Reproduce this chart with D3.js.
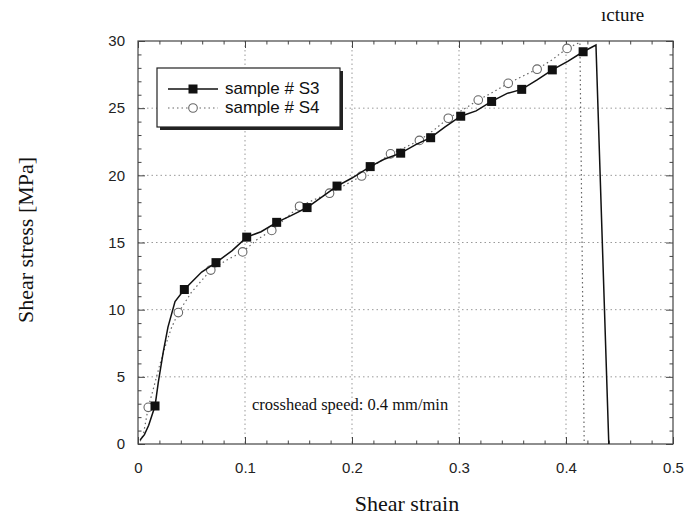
<!DOCTYPE html>
<html>
<head>
<meta charset="utf-8">
<script src="https://cdn.jsdelivr.net/npm/d3@7/dist/d3.min.js"></script>
<style>
  html, body { margin: 0; padding: 0; background: #fff; }
  svg { display: block; }
</style>
</head>
<body>
<svg id="chart" width="686" height="517"></svg>
<script>
// Shear stress–strain curves for two samples
const s3Strain = [0.002, 0.006, 0.010, 0.0159, 0.019, 0.0237, 0.028, 0.0346, 0.0433, 0.0595, 0.0729, 0.088, 0.1016, 0.115, 0.1296, 0.143, 0.158, 0.172, 0.186, 0.200, 0.217, 0.230, 0.2455, 0.260, 0.2735, 0.287, 0.3016, 0.316, 0.3305, 0.345, 0.3586, 0.373, 0.3872, 0.402, 0.416, 0.428, 0.440];
const s3Stress = [0.3, 0.7, 1.4, 2.83, 4.6, 6.9, 8.7, 10.6, 11.5, 12.8, 13.5, 14.4, 15.4, 15.8, 16.5, 17.0, 17.6, 18.4, 19.2, 19.8, 20.65, 21.2, 21.65, 22.3, 22.8, 23.6, 24.4, 24.8, 25.5, 26.1, 26.4, 27.1, 27.85, 28.5, 29.2, 29.7, 0];
const s3MarkStrain = [0.0159, 0.0433, 0.0729, 0.1016, 0.1296, 0.158, 0.186, 0.217, 0.2455, 0.2735, 0.3016, 0.3305, 0.3586, 0.3872, 0.416];
const s3MarkStress = [2.83, 11.5, 13.5, 15.4, 16.5, 17.6, 19.2, 20.65, 21.65, 22.8, 24.4, 25.5, 26.4, 27.85, 29.2];

const s4Strain = [0.002, 0.005, 0.0096, 0.015, 0.020, 0.026, 0.031, 0.0377, 0.050, 0.068, 0.083, 0.0978, 0.111, 0.125, 0.138, 0.151, 0.165, 0.179, 0.194, 0.209, 0.222, 0.236, 0.250, 0.263, 0.277, 0.290, 0.304, 0.318, 0.332, 0.346, 0.360, 0.373, 0.387, 0.401, 0.413, 0.417];
const s4Stress = [0.2, 0.7, 2.73, 4.3, 5.8, 7.4, 8.6, 9.78, 11.3, 12.95, 13.7, 14.3, 15.2, 15.9, 16.8, 17.7, 18.2, 18.67, 19.3, 19.95, 20.8, 21.6, 22.1, 22.6, 23.4, 24.25, 24.9, 25.6, 26.2, 26.85, 27.4, 27.9, 28.6, 29.45, 29.9, 0];
const s4MarkStrain = [0.0096, 0.0377, 0.068, 0.0978, 0.125, 0.151, 0.179, 0.209, 0.236, 0.263, 0.290, 0.318, 0.346, 0.373, 0.401];
const s4MarkStress = [2.73, 9.78, 12.95, 14.3, 15.9, 17.7, 18.67, 19.95, 21.6, 22.6, 24.25, 25.6, 26.85, 27.9, 29.45];

const xTicks = [0, 0.1, 0.2, 0.3, 0.4, 0.5];
const xTickLabels = ["0", "0.1", "0.2", "0.3", "0.4", "0.5"];
const yTicks = [0, 5, 10, 15, 20, 25, 30];
const yTickLabels = ["0", "5", "10", "15", "20", "25", "30"];
const seriesNames = ["sample # S3", "sample # S4"];

const svg = d3.select("#chart");
const L = 138, R = 673, T = 41, B = 444;
const x = d3.scaleLinear().domain([0, 0.5]).range([L, R]);
const y = d3.scaleLinear().domain([0, 30]).range([B, T]);

const sans = "'Liberation Sans', Arial, sans-serif";
const serif = "'Liberation Serif', 'Times New Roman', serif";
const frameCol = "#444";

// dotted grid at the inner major ticks
const grid = svg.append("g");
grid.selectAll("line.gx").data(xTicks.slice(1, -1)).join("line")
  .attr("x1", d => x(d)).attr("x2", d => x(d)).attr("y1", T).attr("y2", B)
  .attr("stroke", "#999").attr("stroke-width", 1).attr("stroke-dasharray", "1.5,3");
grid.selectAll("line.gy").data(yTicks.slice(1, -1)).join("line")
  .attr("x1", L).attr("x2", R).attr("y1", d => y(d)).attr("y2", d => y(d))
  .attr("stroke", "#999").attr("stroke-width", 1).attr("stroke-dasharray", "1.5,3");

// axes: inward ticks on all four sides
const xMinor = d3.range(0, 0.5001, 0.02).filter(v => Math.abs(v * 10 - Math.round(v * 10)) > 1e-6);
const yMinor = d3.range(0, 30.001, 1).filter(v => v % 5 !== 0);

function styleAxis(g) {
  g.select(".domain").remove();
  g.selectAll("line").attr("stroke", frameCol).attr("stroke-width", 1);
}

svg.append("g").attr("transform", `translate(0,${B})`)
  .call(d3.axisBottom(x).tickValues(xTicks).tickSizeInner(-7).tickSizeOuter(0).tickPadding(18)
    .tickFormat((d, i) => xTickLabels[i]))
  .call(styleAxis)
  .call(g => g.selectAll("text").attr("font-family", sans).attr("font-size", 15).attr("fill", "#222"));
svg.append("g").attr("transform", `translate(0,${B})`)
  .call(d3.axisBottom(x).tickValues(xMinor).tickSizeInner(-3.5).tickSizeOuter(0).tickFormat(""))
  .call(styleAxis);
svg.append("g").attr("transform", `translate(0,${T})`)
  .call(d3.axisTop(x).tickValues(xTicks).tickSizeInner(-7).tickSizeOuter(0).tickFormat(""))
  .call(styleAxis);
svg.append("g").attr("transform", `translate(0,${T})`)
  .call(d3.axisTop(x).tickValues(xMinor).tickSizeInner(-3.5).tickSizeOuter(0).tickFormat(""))
  .call(styleAxis);

svg.append("g").attr("transform", `translate(${L},0)`)
  .call(d3.axisLeft(y).tickValues(yTicks).tickSizeInner(-7).tickSizeOuter(0).tickPadding(13)
    .tickFormat((d, i) => yTickLabels[i]))
  .call(styleAxis)
  .call(g => g.selectAll("text").attr("font-family", sans).attr("font-size", 15).attr("fill", "#222"));
svg.append("g").attr("transform", `translate(${L},0)`)
  .call(d3.axisLeft(y).tickValues(yMinor).tickSizeInner(-3.5).tickSizeOuter(0).tickFormat(""))
  .call(styleAxis);
svg.append("g").attr("transform", `translate(${R},0)`)
  .call(d3.axisRight(y).tickValues(yTicks).tickSizeInner(-7).tickSizeOuter(0).tickFormat(""))
  .call(styleAxis);
svg.append("g").attr("transform", `translate(${R},0)`)
  .call(d3.axisRight(y).tickValues(yMinor).tickSizeInner(-3.5).tickSizeOuter(0).tickFormat(""))
  .call(styleAxis);

// plot frame
svg.append("rect").attr("x", L).attr("y", T).attr("width", R - L).attr("height", B - T)
  .attr("fill", "none").attr("stroke", frameCol).attr("stroke-width", 1.2);

const line = d3.line().x(d => x(d[0])).y(d => y(d[1]));

// sample S4: dotted grey curve with open circles
const s4 = s4Strain.map((v, i) => [v, s4Stress[i]]);
svg.append("path").datum(s4).attr("d", line)
  .attr("fill", "none").attr("stroke", "#666").attr("stroke-width", 1.2).attr("stroke-dasharray", "1.5,3");
svg.append("g").selectAll("circle").data(s4MarkStrain.map((v, i) => [v, s4MarkStress[i]])).join("circle")
  .attr("cx", d => x(d[0])).attr("cy", d => y(d[1])).attr("r", 4.3)
  .attr("fill", "#fff").attr("stroke", "#666").attr("stroke-width", 1.1);

// sample S3: solid black curve with filled squares
const s3 = s3Strain.map((v, i) => [v, s3Stress[i]]);
svg.append("path").datum(s3).attr("d", line)
  .attr("fill", "none").attr("stroke", "#111").attr("stroke-width", 1.5);
svg.append("g").selectAll("rect").data(s3MarkStrain.map((v, i) => [v, s3MarkStress[i]])).join("rect")
  .attr("x", d => x(d[0]) - 4.5).attr("y", d => y(d[1]) - 4.5).attr("width", 9).attr("height", 9)
  .attr("fill", "#111");

// legend with drop shadow
const lg = svg.append("g");
lg.append("rect").attr("x", 160).attr("y", 71).attr("width", 183).attr("height", 59).attr("fill", "#222");
lg.append("rect").attr("x", 157).attr("y", 68).attr("width", 183).attr("height", 59)
  .attr("fill", "#fff").attr("stroke", "#222").attr("stroke-width", 1.2);
lg.append("line").attr("x1", 168).attr("x2", 218).attr("y1", 89).attr("y2", 89)
  .attr("stroke", "#111").attr("stroke-width", 1.5);
lg.append("rect").attr("x", 188.5).attr("y", 84.5).attr("width", 9).attr("height", 9).attr("fill", "#111");
lg.append("line").attr("x1", 168).attr("x2", 218).attr("y1", 108).attr("y2", 108)
  .attr("stroke", "#666").attr("stroke-width", 1.2).attr("stroke-dasharray", "1.5,3");
lg.append("circle").attr("cx", 193).attr("cy", 108).attr("r", 4.3)
  .attr("fill", "#fff").attr("stroke", "#666").attr("stroke-width", 1.1);
lg.selectAll("text").data(seriesNames).join("text")
  .attr("x", 225).attr("y", (d, i) => 94 + i * 19)
  .attr("font-family", sans).attr("font-size", 17).attr("fill", "#111").text(d => d);

// annotations
svg.append("text").attr("x", 252).attr("y", 410)
  .attr("font-family", serif).attr("font-size", 16.5).attr("fill", "#111")
  .text("crosshead speed: 0.4 mm/min");
svg.append("text").attr("x", 601).attr("y", 21)
  .attr("font-family", serif).attr("font-size", 19).attr("fill", "#111").text("ıcture");

// axis titles
svg.append("text").attr("x", 407).attr("y", 511).attr("text-anchor", "middle")
  .attr("font-family", serif).attr("font-size", 22).attr("fill", "#111").text("Shear strain");
svg.append("text").attr("transform", `translate(33,240) rotate(-90)`)
  .attr("text-anchor", "middle")
  .attr("font-family", serif).attr("font-size", 22).attr("fill", "#111").text("Shear stress [MPa]");
</script>
</body>
</html>
